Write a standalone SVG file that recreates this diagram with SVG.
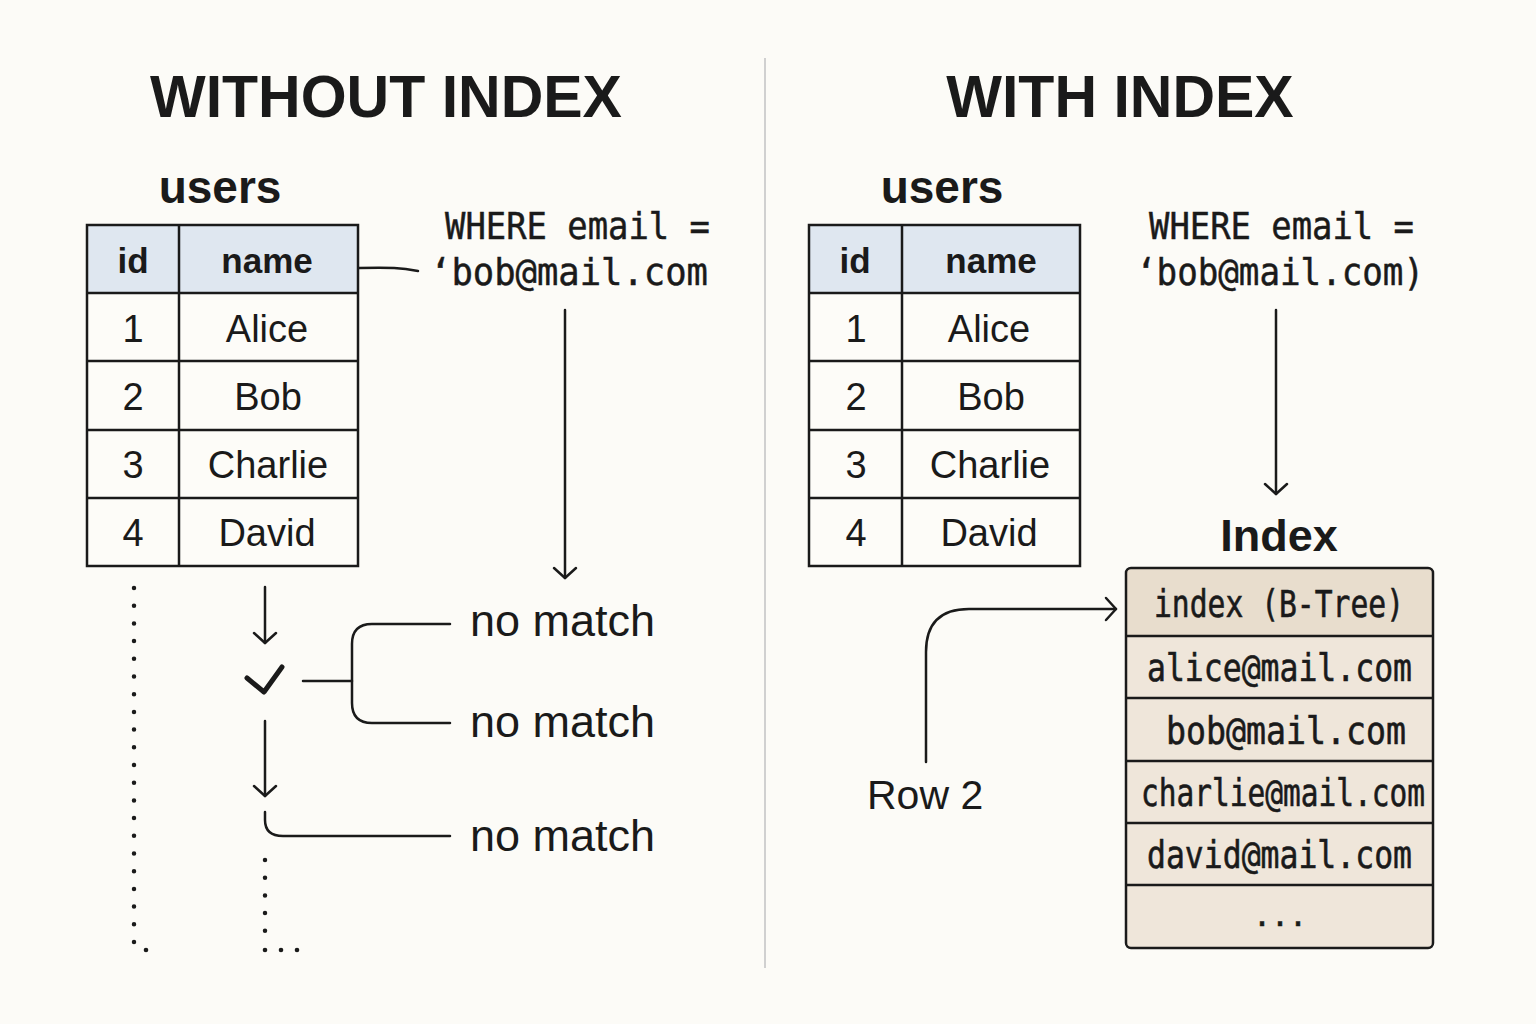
<svg xmlns="http://www.w3.org/2000/svg" width="1536" height="1024" viewBox="0 0 1536 1024">
<defs>
<style>
.bg{fill:#fcfbf7}
.title{font-family:"Liberation Sans",Arial,sans-serif;font-weight:bold;font-size:59px;fill:#1a1a1a;text-anchor:middle}
.tname{font-family:"Liberation Sans",Arial,sans-serif;font-weight:bold;font-size:46px;fill:#1a1a1a;text-anchor:middle}
.hdr{font-family:"Liberation Sans",Arial,sans-serif;font-weight:bold;font-size:35px;fill:#1a1a1a;text-anchor:middle}
.cell{font-family:"Liberation Sans",Arial,sans-serif;font-size:38px;fill:#1a1a1a;text-anchor:middle}
.mono{font-family:"DejaVu Sans Mono","Liberation Mono",monospace;font-size:38px;fill:#1a1a1a;stroke:#1a1a1a;stroke-width:0.5}
.idx{font-family:"DejaVu Sans Mono","Liberation Mono",monospace;font-size:37px;fill:#1a1a1a;stroke:#1a1a1a;stroke-width:0.6}
.lbl{font-family:"Liberation Sans",Arial,sans-serif;font-size:45px;fill:#1a1a1a}
.row2{font-family:"Liberation Sans",Arial,sans-serif;font-size:41px;fill:#1a1a1a}
.grid{fill:none;stroke:#1a1a1a;stroke-width:2.5}
.hfill{fill:#dfe7f0}
.wfill{fill:#fdfcf8}
.line{fill:none;stroke:#1a1a1a;stroke-width:2.5;stroke-linecap:round;stroke-linejoin:round}
.dots{fill:none;stroke:#1a1a1a;stroke-width:4.5;stroke-linecap:round;stroke-dasharray:0 17.7}
</style>
<marker id="chev" markerUnits="userSpaceOnUse" markerWidth="30" markerHeight="30" viewBox="-15 -15 30 30" refX="0" refY="0" orient="auto">
<path d="M-10,-11 L0,0 L-10,11" fill="none" stroke="#1a1a1a" stroke-width="2.5" stroke-linecap="round" stroke-linejoin="round"/>
</marker>
</defs>
<rect class="bg" x="0" y="0" width="1536" height="1024"/>
<line x1="765" y1="58" x2="765" y2="968" stroke="#d0d0d0" stroke-width="2"/>

<g id="title-left"><text class="title" x="386" y="117">WITHOUT INDEX</text></g>
<g id="title-right"><text class="title" x="1120" y="117">WITH INDEX</text></g>

<g id="table-left">
<text class="tname" x="220" y="203">users</text>
<rect class="hfill" x="87" y="225" width="271" height="68"/>
<rect class="wfill" x="87" y="293" width="271" height="273"/>
<rect class="grid" x="87" y="225" width="271" height="341"/>
<path class="grid" d="M179,225 V566 M87,293 H358 M87,361 H358 M87,430 H358 M87,498 H358"/>
<text class="hdr" x="133" y="273">id</text>
<text class="hdr" x="267" y="273">name</text>
<text class="cell" x="133" y="342">1</text><text class="cell" x="267" y="342">Alice</text>
<text class="cell" x="133" y="410">2</text><text class="cell" x="268" y="410">Bob</text>
<text class="cell" x="133" y="478">3</text><text class="cell" x="268" y="478">Charlie</text>
<text class="cell" x="133" y="546">4</text><text class="cell" x="267" y="546">David</text>
</g>

<g id="table-right">
<text class="tname" x="942" y="203">users</text>
<rect class="hfill" x="809" y="225" width="271" height="68"/>
<rect class="wfill" x="809" y="293" width="271" height="273"/>
<rect class="grid" x="809" y="225" width="271" height="341"/>
<path class="grid" d="M902,225 V566 M809,293 H1080 M809,361 H1080 M809,430 H1080 M809,498 H1080"/>
<text class="hdr" x="855" y="273">id</text>
<text class="hdr" x="991" y="273">name</text>
<text class="cell" x="856" y="342">1</text><text class="cell" x="989" y="342">Alice</text>
<text class="cell" x="856" y="410">2</text><text class="cell" x="991" y="410">Bob</text>
<text class="cell" x="856" y="478">3</text><text class="cell" x="990" y="478">Charlie</text>
<text class="cell" x="856" y="546">4</text><text class="cell" x="989" y="546">David</text>
</g>

<g id="query-left">
<text class="mono" x="445" y="239" textLength="265" lengthAdjust="spacingAndGlyphs">WHERE email =</text>
<text class="mono" x="430" y="285" textLength="278" lengthAdjust="spacingAndGlyphs">‘bob@mail.com</text>
</g>
<g id="query-right">
<text class="mono" x="1149" y="239" textLength="265" lengthAdjust="spacingAndGlyphs">WHERE email =</text>
<text class="mono" x="1136" y="285" textLength="288" lengthAdjust="spacingAndGlyphs">‘bob@mail.com)</text>
</g>

<g id="scan">
<path d="M247,678 L264,692 L282,667" fill="none" stroke="#1a1a1a" stroke-width="5" stroke-linecap="round" stroke-linejoin="round"/>
<path class="dots" d="M134,588 V942"/>
<circle cx="146" cy="950" r="2.3" fill="#1a1a1a"/>
<path class="dots" d="M265,860 V932"/>
<circle cx="265" cy="950" r="2.3" fill="#1a1a1a"/>
<circle cx="281" cy="950" r="2.3" fill="#1a1a1a"/>
<circle cx="297" cy="950" r="2.3" fill="#1a1a1a"/>
</g>

<g id="nomatch-1"><text class="lbl" x="470" y="636">no match</text></g>
<g id="nomatch-2"><text class="lbl" x="470" y="737">no match</text></g>
<g id="nomatch-3"><text class="lbl" x="470" y="851">no match</text></g>

<g id="index">
<text class="tname" x="1279" y="551" style="font-size:45px">Index</text>
<rect x="1126" y="568" width="307" height="380" rx="5" fill="#efe6da"/>
<rect x="1127" y="569" width="305" height="67" rx="4" fill="#e8ddcd"/>
<rect x="1126" y="568" width="307" height="380" rx="5" class="grid"/>
<path class="grid" d="M1126,636 H1433 M1126,698 H1433 M1126,761 H1433 M1126,823 H1433 M1126,885 H1433"/>
<text class="idx" x="1154" y="617" textLength="250" lengthAdjust="spacingAndGlyphs">index (B-Tree)</text>
<text class="idx" x="1147" y="681" textLength="265" lengthAdjust="spacingAndGlyphs">alice@mail.com</text>
<text class="idx" x="1166" y="744" textLength="240" lengthAdjust="spacingAndGlyphs">bob@mail.com</text>
<text class="idx" x="1141" y="806" textLength="284" lengthAdjust="spacingAndGlyphs">charlie@mail.com</text>
<text class="idx" x="1147" y="868" textLength="265" lengthAdjust="spacingAndGlyphs">david@mail.com</text>
<text class="idx" x="1280" y="926" text-anchor="middle" style="font-size:30px">...</text>
</g>

<g id="row2"><text class="row2" x="867" y="809">Row 2</text></g>

<g id="connectors">
<path class="line" d="M359,268 C390,267 402,268 418,271"/>
<path class="line" d="M565,310 V578" marker-end="url(#chev)"/>
<path class="line" d="M1276,310 V494" marker-end="url(#chev)"/>
<path class="line" d="M265,587 V643" marker-end="url(#chev)"/>
<path class="line" d="M265,721 V796" marker-end="url(#chev)"/>
<path class="line" d="M303,681 H352"/>
<path class="line" d="M450,624 H372 Q352,624 352,644 V703 Q352,723 372,723 H450"/>
<path class="line" d="M265,812 V820 Q265,836 283,836 H450"/>
<path class="line" d="M926,762 V652 Q926,609 969,609 H1116" marker-end="url(#chev)"/>
</g>
</svg>
